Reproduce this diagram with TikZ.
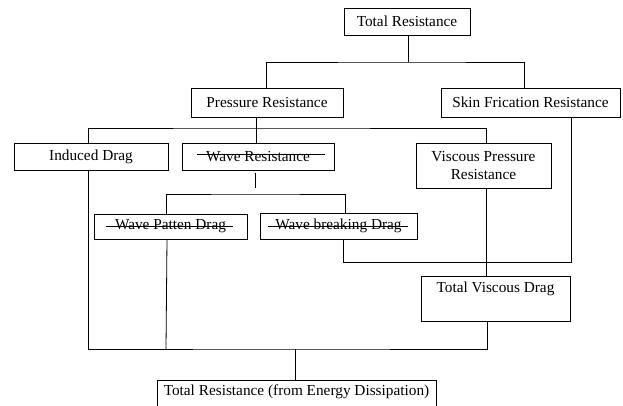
\documentclass[tikz,border=0pt]{standalone}
\usepackage{fontspec}
\setmainfont{Liberation Serif}
\begin{document}
\begin{tikzpicture}[x=1pt,y=-1pt,
  box/.style={draw, line width=0.8pt, inner sep=0pt, align=center, font=\fontsize{15.3}{18}\selectfont},
  conn/.style={line width=0.8pt},
  lbl/.style={inner sep=0pt, font=\fontsize{15.3}{18}\selectfont, align=center},
  strike/.style={line width=0.8pt}]
\useasboundingbox[fill=white] (0,0) rectangle (623,406);
% boxes
\node[box, minimum width=126pt, minimum height=27pt] (tr) at (407,21.5) {Total Resistance};
\node[box, minimum width=152pt, minimum height=29pt] (pr) at (267,102.5) {Pressure Resistance};
\node[box, minimum width=179pt, minimum height=29pt] (sf) at (530.5,102.5) {Skin Frication Resistance};
\node[box, minimum width=154pt, minimum height=27pt] (id) at (91,156.5) {Induced Drag};
\node[box, minimum width=152pt, minimum height=27pt] (wr) at (258,156.5) {Wave Resistance};
\node[box, minimum width=135pt, minimum height=45pt] (vp) at (483.5,165.5) {Viscous Pressure\\Resistance};
\node[box, minimum width=153pt, minimum height=25pt] (wp) at (170.5,226.5) {Wave Patten Drag};
\node[box, minimum width=157pt, minimum height=26pt] (wb) at (338.5,226) {Wave breaking Drag};
\node[box, minimum width=149pt, minimum height=45pt] (tv) at (495.5,298.5) {};
\node[lbl] (tvt) at (495.5,288.5) {Total Viscous Drag};
\node[box, minimum width=279pt, minimum height=35pt] (te) at (296.5,397.5) {};
\node[lbl] (tet) at (296.5,392) {Total Resistance (from Energy Dissipation)};
% strike-through lines
\draw[strike] ([xshift=-61pt,yshift=2.5pt]wr.center) -- ([xshift=67pt,yshift=2.5pt]wr.center);
\draw[strike] ([xshift=-64.5pt]wp.center) -- ([xshift=62.5pt]wp.center);
\draw[strike] ([xshift=-70.5pt]wb.center) -- ([xshift=69.5pt]wb.center);
% junctions
\coordinate (j1) at (408,62);
\coordinate (j2) at (256,128);
\coordinate (s1) at (255,173);
\coordinate (s2) at (255,188);
\coordinate (j3) at (255,194);
\coordinate (j4) at (571,262);
\coordinate (j5) at (295,349);
\coordinate (j6) at (166,349);
% connectors
\draw[conn] ([xshift=1pt]tr.south) -- (j1);
\draw[conn] ([xshift=-1pt]pr.north) |- (j1) -| ([xshift=-6.5pt]sf.north);
\draw[conn] ([xshift=-11pt]pr.south) -- ([xshift=-2pt]wr.north);
\draw[conn] ([xshift=-3pt]id.north) |- (j2) -| ([xshift=2.5pt]vp.north);
\draw[conn] (s1) -- (s2);
\draw[conn] ([xshift=-4.5pt]wp.north) |- (j3) -| ([xshift=6.5pt]wb.north);
\draw[conn] ([xshift=4.5pt]wb.south) |- (j4) -- ([xshift=40.5pt]sf.south);
\draw[conn] ([xshift=2.5pt]vp.south) -- ([xshift=-9.5pt]tv.north);
\draw[conn] ([xshift=-8.5pt]tv.south) |- (j5) -| ([xshift=-3pt]id.south);
\draw[conn] ([xshift=-3.5pt]wp.south) -- (j6);
\draw[conn] (j5) -- ([xshift=-1.5pt]te.north);
\end{tikzpicture}
\end{document}
